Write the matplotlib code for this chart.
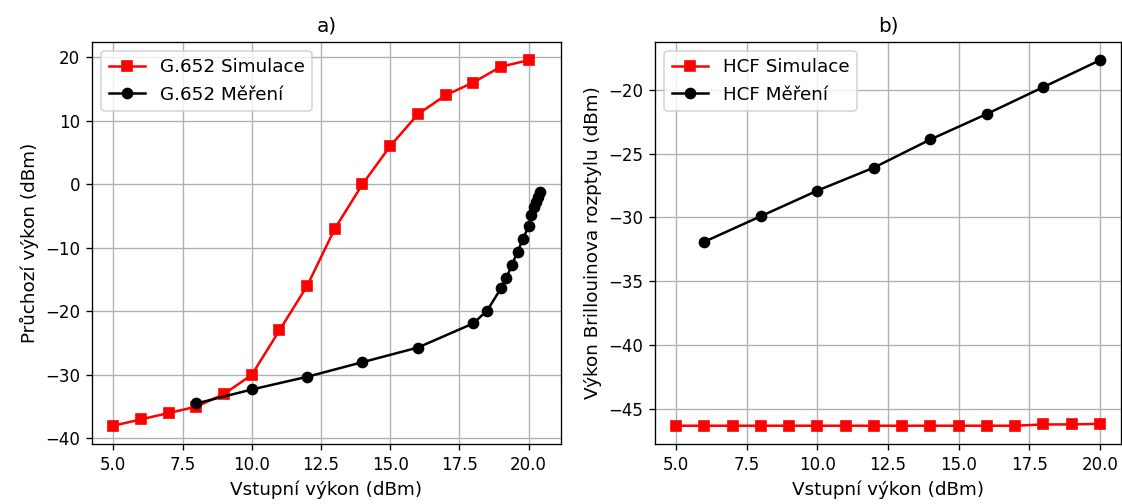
import matplotlib
matplotlib.use("Agg")
import matplotlib.pyplot as plt

# a) G.652 fibre: transmitted power vs input power
g652_sim_x = [5, 6, 7, 8, 9, 10, 11, 12, 13, 14, 15, 16, 17, 18, 19, 20]
g652_sim_y = [-38, -37, -36, -35, -33, -30, -23, -16, -7, 0, 6, 11, 14, 16, 18.5, 19.5]

g652_meas_x = [8, 10, 12, 14, 16, 18, 18.5, 19, 19.2, 19.4, 19.6, 19.8, 20.0,
               20.1, 20.2, 20.28, 20.34, 20.4]
g652_meas_y = [-34.5, -32.3, -30.3, -28.0, -25.7, -21.9, -19.9, -16.4, -14.7,
               -12.7, -10.6, -8.6, -6.6, -4.9, -3.6, -2.8, -2.0, -1.3]

# b) HCF: Brillouin scattering power vs input power
hcf_sim_x = [5, 6, 7, 8, 9, 10, 11, 12, 13, 14, 15, 16, 17, 18, 19, 20]
hcf_sim_y = [-46.3, -46.3, -46.3, -46.3, -46.3, -46.3, -46.3, -46.3, -46.3,
             -46.3, -46.3, -46.3, -46.3, -46.2, -46.2, -46.15]

hcf_meas_x = [6, 8, 10, 12, 14, 16, 18, 20]
hcf_meas_y = [-31.9, -29.9, -27.9, -26.1, -23.9, -21.9, -19.8, -17.7]

x_ticks = [5.0, 7.5, 10.0, 12.5, 15.0, 17.5, 20.0]
a_y_ticks = [-40, -30, -20, -10, 0, 10, 20]
b_y_ticks = [-45, -40, -35, -30, -25, -20]

dpi = 120
W, H = 1122, 504
fig = plt.figure(figsize=(W / dpi, H / dpi), dpi=dpi)


def box(l, r, t, b):
    return [l / W, 1 - b / H, (r - l) / W, (b - t) / H]


ax1 = fig.add_axes(box(92, 561, 42, 444))
ax2 = fig.add_axes(box(655, 1121, 42, 444))

ax1.plot(g652_sim_x, g652_sim_y, "s-", color="red", label="G.652 Simulace")
ax1.plot(g652_meas_x, g652_meas_y, "o-", color="black", label="G.652 Měření")
ax1.set_title("a)", fontsize=12)
ax1.set_xlabel("Vstupní výkon (dBm)", fontsize=11)
ax1.set_ylabel("Průchozí výkon (dBm)", fontsize=11)
ax1.set_xticks(x_ticks)
ax1.set_yticks(a_y_ticks)
ax1.grid(True)
ax1.legend(loc="upper left", fontsize=11)

ax2.plot(hcf_sim_x, hcf_sim_y, "s-", color="red", label="HCF Simulace")
ax2.plot(hcf_meas_x, hcf_meas_y, "o-", color="black", label="HCF Měření")
ax2.set_title("b)", fontsize=12)
ax2.set_xlabel("Vstupní výkon (dBm)", fontsize=11)
ax2.set_ylabel("Výkon Brillouinova rozptylu (dBm)", fontsize=11)
ax2.set_xticks(x_ticks)
ax2.set_yticks(b_y_ticks)
ax2.grid(True)
ax2.legend(loc="upper left", fontsize=11)

fig.savefig("out.png", dpi=dpi)
